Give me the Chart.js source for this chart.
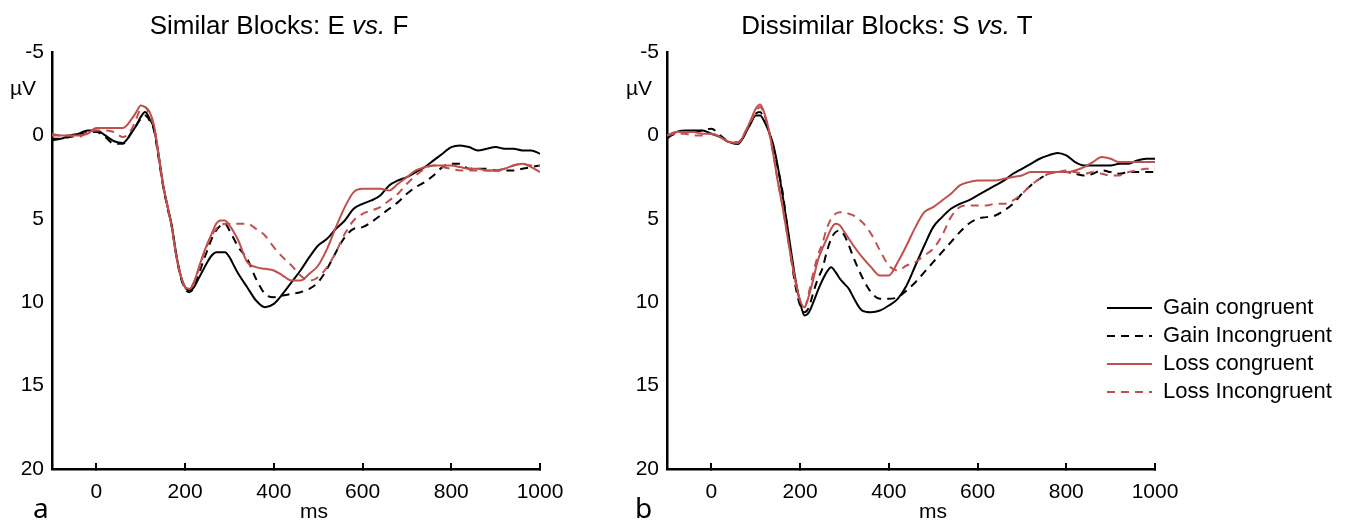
<!DOCTYPE html>
<html>
<head>
<meta charset="utf-8">
<script src="https://cdn.jsdelivr.net/npm/chart.js@4.4.0/dist/chart.umd.min.js"></script>
<style>
  body { margin: 0; background: #fff; }
  #wrap { position: relative; width: 1346px; height: 521px; overflow: hidden; font-family: 'Liberation Sans', Arial, sans-serif; color: #000; }
  canvas { position: absolute; top: 0; }
  .t { position: absolute; white-space: nowrap; line-height: 1; }
  .title { font-size: 26px; top: 12px; transform: translateX(-50%); }
  .unit { font-size: 21px; }
  .tag { font-family: 'Noto Sans', sans-serif; font-size: 28px; top: 493px; }
</style>
</head>
<body>
<div id="wrap">
  <canvas id="left" width="600" height="521" style="left:0"></canvas>
  <canvas id="right" width="600" height="521" style="left:615px"></canvas>
  <canvas id="legend" width="245" height="125" style="left:1101px; top:291px"></canvas>

  <div class="t title" style="left:279px">Similar Blocks: E <i>vs.</i> F</div>
  <div class="t title" style="left:887px">Dissimilar Blocks: S <i>vs.</i> T</div>
  <div class="t unit" style="left:10px; top:77px">µV</div>
  <div class="t unit" style="left:626px; top:77px">µV</div>
  <div class="t unit" style="left:300px; top:500px">ms</div>
  <div class="t unit" style="left:919px; top:500px">ms</div>
  <div class="t tag" style="left:33px">a</div>
  <div class="t tag" style="left:635px">b</div>
</div>
<script>
// time points (ms)
const times = [-100,-80,-60,-40,-20,0,20,40,60,80,
  90,100,110,120,130,140,150,160,170,180,190,200,210,220,230,240,250,260,270,280,290,300,310,320,
  340,360,380,400,420,440,460,480,500,520,540,560,580,600,620,640,660,680,700,720,740,760,780,800,820,840,860,880,900,920,940,960,980,1000];

// Similar blocks (E vs F), µV
const simGainCong = [0.2,0.2,0.0,-0.1,-0.3,-0.3,0.0,0.35,0.45,-0.2,
  -0.6,-1.1,-1.4,-1.0,-0.4,1.1,2.9,4.2,5.4,7.1,8.4,9.1,9.3,9.1,8.6,8.1,7.6,7.2,7.0,7.0,7.0,7.3,7.8,8.3,
  9.1,9.9,10.3,10.1,9.5,8.8,8.1,7.3,6.6,6.2,5.6,5.1,4.4,4.1,3.9,3.6,3.0,2.7,2.5,2.2,1.9,1.5,1.1,0.7,0.6,0.7,0.9,0.8,0.7,0.8,0.8,0.9,0.9,1.1];
const simGainIncong = [0.3,0.2,0.1,0.0,-0.2,-0.2,0.1,0.5,0.5,-0.2,
  -0.6,-1.0,-1.2,-0.9,-0.3,1.3,3.0,4.3,5.5,7.2,8.5,9.2,9.4,9.1,8.4,7.6,6.9,6.2,5.7,5.4,5.3,5.7,6.2,6.7,
  7.4,8.6,9.5,9.7,9.6,9.5,9.4,9.2,8.8,8.0,7.0,6.1,5.6,5.5,5.2,4.8,4.4,4.0,3.5,3.1,2.8,2.4,1.9,1.7,1.7,2.0,2.0,2.0,2.1,2.1,2.1,2.0,1.9,1.8];
const simLossCong = [-0.1,0.0,0.0,0.0,-0.1,-0.45,-0.45,-0.45,-0.45,-1.0,
  -1.4,-1.8,-1.7,-1.4,-0.6,1.1,2.9,4.2,5.5,7.2,8.4,9.1,9.2,8.8,8.0,7.2,6.5,5.9,5.3,5.1,5.1,5.4,5.8,6.3,
  7.6,7.9,8.0,8.1,8.4,8.7,8.7,8.3,7.8,6.8,5.5,4.3,3.4,3.2,3.2,3.2,3.3,2.9,2.5,2.1,1.9,1.8,1.8,1.8,1.9,2.0,2.0,2.1,2.1,2.0,1.8,1.7,1.9,2.2];
const simLossIncong = [0.0,0.0,0.0,0.1,-0.2,-0.3,-0.3,-0.2,0.1,-0.4,
  -1.0,-1.6,-1.7,-1.2,-0.5,1.2,2.9,4.2,5.5,7.2,8.4,9.1,9.2,8.8,8.1,7.3,6.6,6.0,5.6,5.4,5.3,5.3,5.3,5.3,
  5.3,5.6,6.0,6.7,7.3,7.8,8.4,8.7,8.5,7.9,7.0,5.9,5.1,4.7,4.5,4.3,3.9,3.5,2.9,2.4,2.0,1.8,1.9,2.0,2.1,2.1,2.1,2.1,2.1,2.0,1.8,1.7,1.8,1.8];

// Dissimilar blocks (S vs T), µV
const disGainCong = [0.2,-0.2,-0.3,-0.3,-0.3,-0.1,0.1,0.4,0.5,-0.3,
  -0.8,-1.2,-1.2,-0.8,-0.2,0.6,1.9,3.5,5.2,7.0,8.7,10.0,10.8,10.6,10.0,9.3,8.7,8.2,7.9,8.2,8.6,8.9,9.2,9.7,
  10.5,10.6,10.5,10.2,9.8,9.0,7.8,6.6,5.5,4.9,4.4,4.1,3.9,3.6,3.3,3.0,2.7,2.3,2.0,1.7,1.4,1.2,1.05,1.2,1.6,1.8,1.8,1.8,1.8,1.7,1.7,1.5,1.4,1.4];
const disGainIncong = [0.1,-0.1,-0.2,-0.2,-0.3,-0.4,0.0,0.4,0.5,-0.3,
  -0.8,-1.3,-1.4,-0.9,-0.2,0.8,2.0,3.3,5.3,7.4,9.1,10.2,10.6,10.3,9.4,8.6,8.0,7.0,6.2,5.8,5.7,6.0,6.6,7.3,
  8.5,9.4,9.8,9.8,9.7,9.3,8.8,8.2,7.6,7.0,6.4,5.8,5.3,5.0,4.9,4.8,4.5,4.1,3.5,3.0,2.6,2.3,2.2,2.2,2.3,2.4,2.3,2.1,2.2,2.3,2.2,2.2,2.2,2.2];
const disLossCong = [0.0,-0.2,-0.2,-0.2,-0.1,-0.1,0.1,0.4,0.45,-0.4,
  -1.0,-1.6,-1.85,-1.3,-0.3,1.2,2.8,4.2,5.8,7.4,8.8,9.9,10.3,9.6,8.6,7.5,6.8,6.2,5.6,5.3,5.4,5.8,6.2,6.6,
  7.3,7.9,8.4,8.4,7.6,6.6,5.5,4.6,4.3,3.9,3.5,3.0,2.8,2.7,2.7,2.7,2.6,2.5,2.4,2.2,2.2,2.2,2.2,2.2,2.1,1.9,1.6,1.3,1.4,1.6,1.6,1.6,1.6,1.6];
const disLossIncong = [0.0,-0.1,-0.1,0.0,0.0,-0.1,0.1,0.4,0.4,-0.4,
  -0.9,-1.4,-1.7,-1.2,-0.2,1.2,2.8,4.2,5.8,7.4,8.8,9.9,10.3,9.4,8.2,7.2,6.5,5.6,5.0,4.7,4.6,4.6,4.7,4.8,
  5.2,5.9,6.9,7.8,8.1,7.8,7.6,7.2,6.8,6.0,4.9,4.3,4.2,4.2,4.2,4.1,4.1,3.9,3.5,3.0,2.6,2.3,2.2,2.1,2.2,2.3,2.2,2.3,2.4,2.4,2.2,2.1,2.0,2.0];

const seriesNames = ['Gain congruent', 'Gain Incongruent', 'Loss congruent', 'Loss Incongruent'];
const xTicks = [0, 200, 400, 600, 800, 1000];

const RED = '#C0504D';
const colors = ['#000000', '#000000', RED, RED];
const dashes = [[], [8, 6], [], [8, 6]];
const drawOrder = [3, 4, 1, 2];
const FONT = "'Liberation Sans', Arial, sans-serif";

function makeDatasets(seriesList) {
  return seriesList.map((vals, i) => ({
    label: seriesNames[i],
    data: times.map((t, j) => ({ x: t, y: vals[j] })),
    borderColor: colors[i],
    borderDash: dashes[i],
    borderWidth: 2,
    order: drawOrder[i],
    pointRadius: 0,
    cubicInterpolationMode: 'monotone',
    fill: false
  }));
}

function makePanel(id, seriesList) {
  return new Chart(document.getElementById(id), {
    type: 'line',
    data: { datasets: makeDatasets(seriesList) },
    options: {
      responsive: false,
      animation: false,
      devicePixelRatio: 1,
      layout: { padding: { top: 52, right: 60, left: 0, bottom: 0 } },
      plugins: { legend: { display: false }, tooltip: { enabled: false } },
      scales: {
        x: {
          type: 'linear',
          min: -100,
          max: 1000,
          afterBuildTicks: s => { s.ticks = xTicks.map(v => ({ value: v })); },
          afterFit: s => { s.height = 52; },
          ticks: { color: '#000', font: { size: 21, family: FONT }, padding: 17, maxRotation: 0, autoSkip: false,
                   callback: v => String(v) },
          grid: { drawOnChartArea: false, tickLength: -6, color: '#000', lineWidth: 2 },
          border: { color: '#000', width: 2.5 }
        },
        y: {
          min: -5,
          max: 20,
          reverse: true,
          afterFit: s => { s.width = 52; },
          ticks: { stepSize: 5, color: '#000', font: { size: 21, family: FONT }, padding: 8,
                   callback: v => String(v) },
          grid: { display: false, drawTicks: false },
          border: { color: '#000', width: 2.5 }
        }
      }
    }
  });
}

makePanel('left', [simGainCong, simGainIncong, simLossCong, simLossIncong]);
makePanel('right', [disGainCong, disGainIncong, disLossCong, disLossIncong]);

new Chart(document.getElementById('legend'), {
  type: 'line',
  data: {
    datasets: seriesNames.map((n, i) => ({
      label: n, data: [], borderColor: colors[i], borderDash: dashes[i], borderWidth: 2
    }))
  },
  options: {
    responsive: false,
    animation: false,
    devicePixelRatio: 1,
    layout: { padding: 0 },
    scales: { x: { display: false }, y: { display: false } },
    plugins: {
      tooltip: { enabled: false },
      legend: {
        position: 'left',
        align: 'start',
        maxWidth: 400,
        labels: {
          usePointStyle: true,
          pointStyle: 'line',
          pointStyleWidth: 45,
          padding: 6,
          color: '#000',
          font: { size: 22, family: FONT },
          generateLabels: chart =>
            Chart.defaults.plugins.legend.labels.generateLabels(chart).map((item, i) => ({
              ...item,
              strokeStyle: colors[i],
              fillStyle: colors[i],
              lineDash: dashes[i],
              lineWidth: 2
            }))
        }
      }
    }
  }
});
</script>
</body>
</html>
